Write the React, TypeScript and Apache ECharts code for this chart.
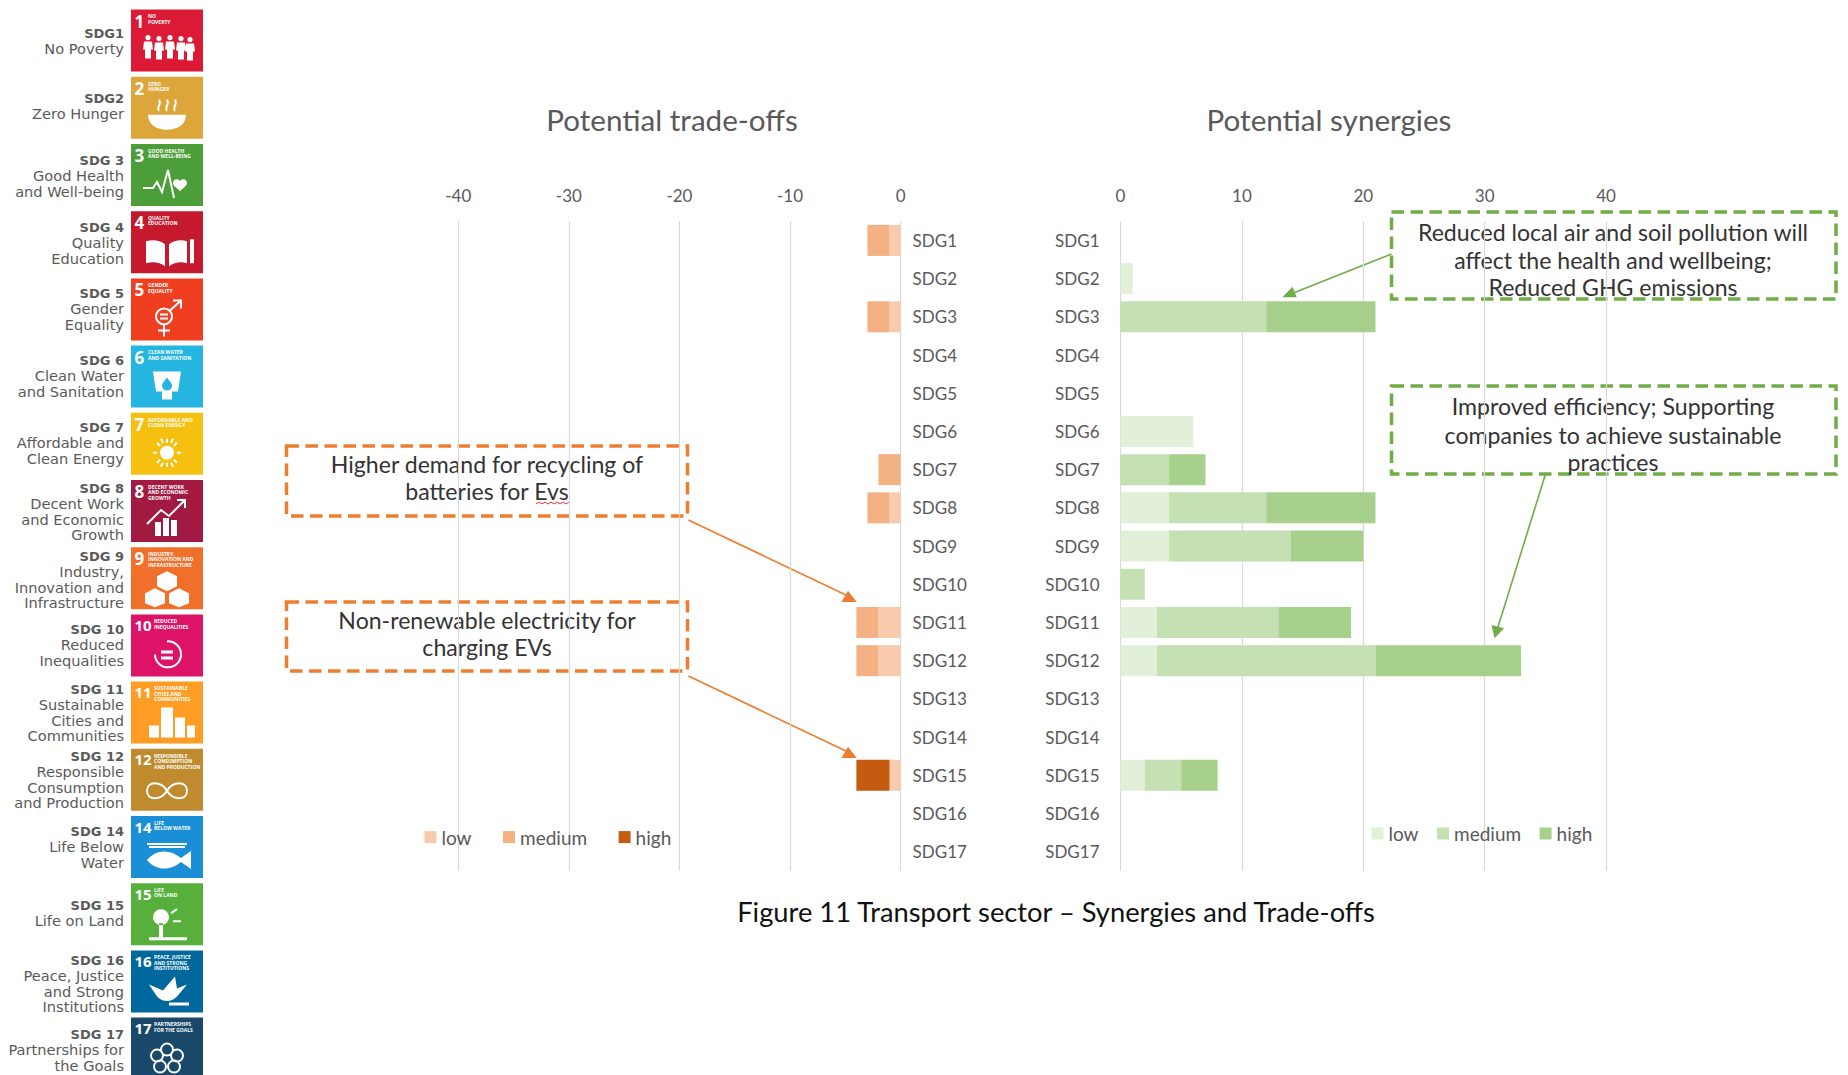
import React, { useEffect, useRef } from "react";
import * as echarts from "echarts";

const categories = ["SDG1","SDG2","SDG3","SDG4","SDG5","SDG6","SDG7","SDG8","SDG9","SDG10","SDG11","SDG12","SDG13","SDG14","SDG15","SDG16","SDG17"];
const tradeLow =    [-1,0,-1,0,0,0,0,-1,0,0,-2,-2,0,0,-1,0,0];
const tradeMedium = [-2,0,-2,0,0,0,-2,-2,0,0,-2,-2,0,0,0,0,0];
const tradeHigh =   [0,0,0,0,0,0,0,0,0,0,0,0,0,0,-3,0,0];
const synLow =    [0,1,0,0,0,6,0,4,4,0,3,3,0,0,2,0,0];
const synMedium = [0,0,12,0,0,0,4,8,10,2,10,18,0,0,3,0,0];
const synHigh =   [0,0,9,0,0,0,3,9,6,0,6,12,0,0,3,0,0];
const levels = ["low","medium","high"];
const tradeColors = ["#F8CBAD","#F4B183","#C55A11"];
const synColors = ["#E2EFD9","#C5E0B3","#A8D08D"];

const tileNumbers = ["1","2","3","4","5","6","7","8","9","10","11","12","14","15","16","17"];
const tileColors = ["#DC1A36","#DDA63A","#4C9F38","#C5192D","#F03E21","#26B5E0","#F5C00F","#A21942","#F0702A","#DD1367","#FD9D24","#BF8B2E","#1A8FD6","#56B03B","#00689D","#19486A"];
const tileCaptions = [
  "NO\nPOVERTY","ZERO\nHUNGER","GOOD HEALTH\nAND WELL-BEING","QUALITY\nEDUCATION","GENDER\nEQUALITY",
  "CLEAN WATER\nAND SANITATION","AFFORDABLE AND\nCLEAN ENERGY","DECENT WORK\nAND ECONOMIC\nGROWTH",
  "INDUSTRY,\nINNOVATION AND\nINFRASTRUCTURE","REDUCED\nINEQUALITIES","SUSTAINABLE\nCITIES AND\nCOMMUNITIES",
  "RESPONSIBLE\nCONSUMPTION\nAND PRODUCTION","LIFE\nBELOW WATER","LIFE\nON LAND","PEACE, JUSTICE\nAND STRONG\nINSTITUTIONS","PARTNERSHIPS\nFOR THE GOALS",
];
const sideLabels = [
  ["SDG1","No Poverty"],["SDG2","Zero Hunger"],["SDG 3","Good Health","and Well-being"],["SDG 4","Quality","Education"],
  ["SDG 5","Gender","Equality"],["SDG 6","Clean Water","and Sanitation"],["SDG 7","Affordable and","Clean Energy"],
  ["SDG 8","Decent Work","and Economic","Growth"],["SDG 9","Industry,","Innovation and","Infrastructure"],
  ["SDG 10","Reduced","Inequalities"],["SDG 11","Sustainable","Cities and","Communities"],
  ["SDG 12","Responsible","Consumption","and Production"],["SDG 14","Life Below","Water"],["SDG 15","Life on Land"],
  ["SDG 16","Peace, Justice","and Strong","Institutions"],["SDG 17","Partnerships for","the Goals"],
];
const sideFirstY = [33,98,160,227,293,360,427,488,556,629,689,756,831,905,960,1034];

const circ = (x: number, y: number, r: number) => `M${x - r} ${y}a${r} ${r} 0 1 0 ${2 * r} 0a${r} ${r} 0 1 0 ${-2 * r} 0Z`;
const box = (x: number, y: number, w: number, h: number) => `M${x} ${y}h${w}v${h}h${-w}Z`;
const person = (x: number, y: number) => circ(x, y, 2.6) + `M${x - 4} ${y + 4}h8l1 8h-2v9h-6v-9h-2Z`;

const iconFill = [
  person(17, 28) + person(28, 29) + person(39, 28) + person(50, 29) + person(59, 30),
  "M17 38H55C55 48 46 53 36 53C26 53 17 48 17 38Z",
  "M49 37c2-3 7-2 7 2c0 3-4 5-7 8c-3-3-7-5-7-8c0-4 5-5 7-2Z",
  "M15 30C22 28 29 29 34 33V55C29 51 22 50 15 52ZM38 33C43 29 50 28 56 30V52C50 50 43 51 38 55ZM59 28h4v24h-4Z",
  "",
  "M22 26H50L47 46H41V54H31V46H25ZM36 32C33 36 31 38 31 40A5 5 0 0 0 41 40C41 38 39 36 36 32Z",
  circ(36, 40, 7),
  box(24, 42, 6, 14) + box(32, 38, 6, 18) + box(40, 40, 6, 16),
  "M36 24L46 29V39L36 44L26 39V29ZM24 41L34 46V56L24 60L14 56V46ZM48 41L58 46V56L48 60L38 56V46Z",
  box(30, 36, 12, 3) + box(30, 42, 12, 3),
  box(30, 26, 12, 30) + box(44, 36, 10, 20) + box(18, 44, 10, 12) + box(56, 44, 8, 12),
  "",
  "M16 44C24 34 38 32 50 42L60 35V53L50 46C38 56 24 54 16 44Z",
  circ(30, 34, 8) + box(28, 40, 4, 14) + box(18, 54, 38, 3),
  "M18 34L32 40L44 26L46 38L56 34L46 46C40 52 32 52 26 46Z" + box(38, 52, 20, 3),
  "",
];
const iconStroke = [
  "",
  "M28 34c-3-4 3-6 0-11M36 34c-3-4 3-6 0-11M44 34c-3-4 3-6 0-11",
  "M12 44H22L26 38L31 48L37 26L43 54",
  "",
  circ(33, 38, 8) + "M33 46V58M27 52H39M39 32L50 22M42 22H50V30M29 36H37M29 40H37",
  "",
  "M36 26V30M36 50V54M22 40H26M46 40H50M26 30L29 33M43 47L46 50M26 50L29 47M43 33L46 30M30 26L32 30M42 26L40 30M30 54L32 50M42 54L40 50",
  "M16 44L30 30L38 36L54 20M46 20H54V28",
  "",
  "M24 40A13 13 0 1 0 36 27",
  "",
  "M36 42C30 32 16 32 16 42C16 52 30 52 36 42C42 32 56 32 56 42C56 52 42 52 36 42Z",
  "M16 28H56M18 31H54",
  "M40 30L46 26M42 38H50",
  "",
  circ(36, 32, 6) + circ(46, 38, 6) + circ(43, 49, 6) + circ(29, 49, 6) + circ(26, 38, 6),
];
iconFill.forEach((d, i) => {
  if (d) echarts.graphic.registerShape(`tileFill${i}`, echarts.graphic.extendPath(d, {}));
  if (iconStroke[i]) echarts.graphic.registerShape(`tileStroke${i}`, echarts.graphic.extendPath(iconStroke[i], {}));
});

const FONT = "Lato, sans-serif";
const SIDE = "'Open Sans', sans-serif";
const SIDE_LABEL = "'DejaVu Sans', sans-serif";
const GREY = "#595959";
const INK = "#333333";
const ORANGE = "#ED7D31";
const GREEN = "#70AD47";

const txt = (x: number, y: number, text: string, font: string, fill: string, align = "center") => ({
  type: "text", x, y, silent: true,
  style: { text, font, fill, align, textAlign: align, verticalAlign: "middle", textVerticalAlign: "middle" },
});
const dashed = (x: number, y: number, w: number, h: number, stroke: string) => ({
  type: "rect", silent: true, shape: { x, y, width: w, height: h },
  style: { fill: "none", stroke, lineWidth: 3.5, lineDash: [12.5, 6.5] },
});
const arrow = (a: number[], b: number[], head: number[][], color: string) => [
  { type: "line", silent: true, shape: { x1: a[0], y1: a[1], x2: b[0], y2: b[1] }, style: { stroke: color, lineWidth: 1.6 } },
  { type: "polygon", silent: true, shape: { points: head }, style: { fill: color } },
];

function tiles() {
  const out: any[] = [];
  tileNumbers.forEach((n, i) => {
    const x = 131, y = 9.6 + i * 67.2;
    out.push({ type: "rect", silent: true, shape: { x, y, width: 72, height: Math.min(62, 1075 - y) }, style: { fill: tileColors[i] } });
    const small = n.length > 1;
    out.push({ type: "text", x: x + 3.5, y: y + 3, silent: true, style: { text: n, font: `bold ${small ? 15 : 17}px ${SIDE}`, fill: "#fff" } });
    out.push({ type: "text", x: x + (small ? 23 : 17), y: y + 4, silent: true, style: { text: tileCaptions[i], font: `bold 5px ${SIDE}`, lineHeight: 5.5, fill: "#fff" } });
    if (iconFill[i]) out.push({ type: `tileFill${i}`, x, y, silent: true, style: { fill: "#fff" } });
    if (iconStroke[i]) out.push({ type: `tileStroke${i}`, x, y, silent: true, style: { fill: "none", stroke: "#fff", lineWidth: 2 } });
  });
  sideLabels.forEach((lines, i) => {
    lines.forEach((t, j) => {
      out.push(txt(124, sideFirstY[i] + j * 15.5, t, j === 0 ? `bold 13px ${SIDE_LABEL}` : `14.6px ${SIDE_LABEL}`, "#5A5A5A", "right"));
    });
  });
  return out;
}

function annotations() {
  const out: any[] = [];
  const f = `23.1px ${FONT}`;
  out.push(dashed(286.5, 446, 401, 70, ORANGE), dashed(286.5, 602, 401, 69, ORANGE));
  out.push(txt(487, 463.5, "Higher demand for recycling of", f, INK), txt(487, 490.5, "batteries for Evs", f, INK));
  out.push(txt(487, 619.5, "Non-renewable electricity for", f, INK), txt(487, 646.5, "charging EVs", f, INK));
  out.push({
    type: "polyline", silent: true,
    shape: { points: [[536,504],[539,502],[542,504],[545,502],[548,504],[551,502],[554,504],[557,502],[560,504],[563,502],[566,504],[569,502]] },
    style: { fill: "none", stroke: "#E03030", lineWidth: 1 },
  });
  out.push(...arrow([688.4, 520], [848, 596], [[848, 590.7], [841.4, 602], [856.7, 602]], ORANGE));
  out.push(...arrow([688.4, 676], [848, 752], [[848, 746.7], [841.4, 758], [856.7, 758]], ORANGE));
  out.push(dashed(1391.5, 212, 444.5, 87, GREEN), dashed(1391.5, 386, 444.5, 88, GREEN));
  out.push(txt(1613, 232, "Reduced local air and soil pollution will", f, INK), txt(1613, 260, "affect the health and wellbeing;", f, INK), txt(1613, 287, "Reduced GHG emissions", f, INK));
  out.push(txt(1613, 406, "Improved efficiency; Supporting", f, INK), txt(1613, 435, "companies to achieve sustainable", f, INK), txt(1613, 462, "practices", f, INK));
  out.push(...arrow([1391.5, 254], [1292.6, 293.3], [[1282.3, 297.3], [1292.6, 286.7], [1296.7, 297.3]], GREEN));
  out.push(...arrow([1545.2, 475], [1497.7, 628], [[1491.5, 625], [1504, 628.3], [1494.6, 638.3]], GREEN));
  out.push(txt(672, 119, "Potential trade-offs", `29.6px ${FONT}`, GREY), txt(1329, 119, "Potential synergies", `29.6px ${FONT}`, GREY));
  out.push(txt(1056, 911, "Figure 11 Transport sector – Synergies and Trade-offs", `27.3px ${FONT}`, "#111111"));
  return out;
}

const axisText = { color: GREY, fontFamily: FONT, fontSize: 17 };
const gridLine = { color: "#D9D9D9", width: 1.2 };

function bars(stack: string, idx: number, lists: number[][], colors: string[]) {
  return lists.map((data, i) => ({
    name: levels[i], type: "bar", stack, xAxisIndex: idx, yAxisIndex: idx, barWidth: 31, data,
    itemStyle: { color: colors[i] }, silent: true,
  }));
}
function legend(left: number, top: number, gap: number, colors: string[]) {
  return {
    left, top, orient: "horizontal", itemWidth: 12, itemHeight: 12, itemGap: gap, icon: "rect", selectedMode: false,
    textStyle: { color: GREY, fontFamily: FONT, fontSize: 19, padding: [0, 0, 0, 0] },
    data: levels.map((name, i) => ({ name, itemStyle: { color: colors[i] } })),
  };
}

export default function App() {
  const ref = useRef<HTMLDivElement>(null);
  useEffect(() => {
    document.body.style.margin = "0";
    const chart = echarts.init(ref.current!, undefined, { renderer: "svg" });
    chart.setOption({
      animation: false,
      backgroundColor: "#ffffff",
      grid: [
        { left: 458.3, top: 221.3, width: 442.3, height: 649.5 },
        { left: 1120.5, top: 221.3, width: 485.6, height: 649.5 },
      ],
      xAxis: [
        { gridIndex: 0, type: "value", position: "top", min: -40, max: 0, interval: 10,
          axisLine: { show: false }, axisTick: { show: false }, splitLine: { lineStyle: gridLine },
          axisLabel: { ...axisText, margin: 17 } },
        { gridIndex: 1, type: "value", position: "top", min: 0, max: 40, interval: 10,
          axisLine: { show: false }, axisTick: { show: false }, splitLine: { lineStyle: gridLine },
          axisLabel: { ...axisText, margin: 17 } },
      ],
      yAxis: [
        { gridIndex: 0, type: "category", inverse: true, position: "right", data: categories,
          axisLine: { show: false }, axisTick: { show: false },
          axisLabel: { ...axisText, interval: 0, margin: 12 } },
        { gridIndex: 1, type: "category", inverse: true, position: "left", data: categories,
          axisLine: { show: false }, axisTick: { show: false },
          axisLabel: { ...axisText, interval: 0, margin: 21 } },
      ],
      legend: [legend(419.5, 822.6, 31.5, tradeColors), legend(1366.5, 819, 18.5, synColors)],
      series: [
        ...bars("trade", 0, [tradeLow, tradeMedium, tradeHigh], tradeColors),
        ...bars("syn", 1, [synLow, synMedium, synHigh], synColors),
      ],
      graphic: { elements: [...tiles(), ...annotations()] },
    });
    return () => chart.dispose();
  }, []);
  return <div ref={ref} style={{ position: "fixed", left: 0, top: 0, width: 1848, height: 1075 }} />;
}
